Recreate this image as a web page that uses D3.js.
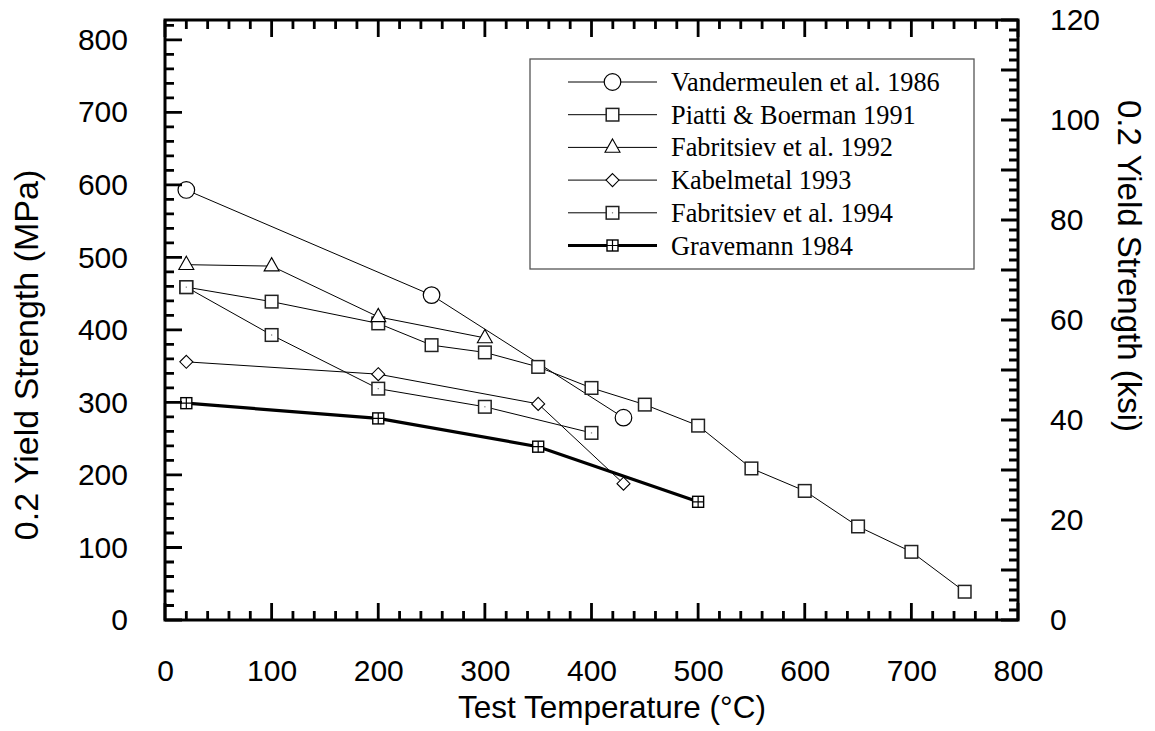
<!DOCTYPE html>
<html>
<head>
<meta charset="utf-8">
<script src="https://cdn.jsdelivr.net/npm/d3@7"></script>
<style>
  html, body { margin: 0; padding: 0; background: #fff; }
  svg { display: block; }
</style>
</head>
<body>
<svg id="chart" width="1155" height="731"></svg>
<script>
// ---- Data ----
const seriesNames = [
  "Vandermeulen et al. 1986",
  "Piatti & Boerman 1991",
  "Fabritsiev et al. 1992",
  "Kabelmetal 1993",
  "Fabritsiev et al. 1994",
  "Gravemann 1984"
];
const vandermeulenT = [20, 250, 430];
const vandermeulenS = [593, 448, 279];
const piattiT = [20, 100, 200, 250, 300, 350, 400, 450, 500, 550, 600, 650, 700, 750];
const piattiS = [459, 439, 409, 379, 369, 349, 320, 297, 268, 209, 178, 129, 94, 39];
const fab92T = [20, 100, 200, 300];
const fab92S = [490, 488, 418, 389];
const kabelT = [20, 200, 350, 430];
const kabelS = [356, 339, 298, 188];
const fab94T = [20, 100, 200, 300, 400];
const fab94S = [459, 393, 319, 294, 258];
const gravT = [20, 200, 350, 500];
const gravS = [299, 278, 239, 163];

const xTickLabels = [0, 100, 200, 300, 400, 500, 600, 700, 800];
const yTickLabels = [0, 100, 200, 300, 400, 500, 600, 700, 800];
const ksiTickLabels = [0, 20, 40, 60, 80, 100, 120];
const MPA_PER_KSI = 6.89476;

// ---- Layout ----
const L = 165, R = 1018, T = 20, B = 620;
const svg = d3.select("#chart");
const x = d3.scaleLinear().domain([0, 800]).range([L, R]);
const y = d3.scaleLinear().domain([0, 120 * MPA_PER_KSI]).range([B, T]);
const yk = d3.scaleLinear().domain([0, 120]).range([B, T]);

const sans = "'Liberation Sans', Arial, Helvetica, sans-serif";
const serif = "'Liberation Serif', 'Times New Roman', Times, serif";
const tickFont = 30;

const minorX = d3.range(0, 801, 20).filter(v => v % 100 !== 0);
const minorY = d3.range(0, 821, 20).filter(v => v % 100 !== 0);
const majorK = d3.range(0, 121, 10);
const minorK = d3.range(0, 121, 2).filter(v => v % 10 !== 0);

function styleAxis(g) {
  g.select(".domain").remove();
  g.selectAll("line").remove();
  g.selectAll("text").attr("font-family", sans).attr("font-size", tickFont).attr("fill", "#000");
}
svg.append("g").attr("transform", `translate(0,${B})`)
  .call(d3.axisBottom(x).tickValues(xTickLabels).tickSize(0).tickPadding(40).tickFormat(d3.format("d")))
  .call(styleAxis);
svg.append("g").attr("transform", `translate(${L},0)`)
  .call(d3.axisLeft(y).tickValues(yTickLabels).tickSize(0).tickPadding(37).tickFormat(d3.format("d")))
  .call(styleAxis);
svg.append("g").attr("transform", `translate(${R},0)`)
  .call(d3.axisRight(yk).tickValues(ksiTickLabels).tickSize(0).tickPadding(32).tickFormat(d3.format("d")))
  .call(styleAxis);

// Axis titles
svg.append("text").attr("x", 612).attr("y", 718).attr("text-anchor", "middle")
  .attr("font-family", sans).attr("font-size", 31.5).text("Test Temperature (°C)");
svg.append("text").attr("transform", "translate(38,355) rotate(-90)").attr("text-anchor", "middle")
  .attr("font-family", sans).attr("font-size", 34).text("0.2 Yield Strength (MPa)");
svg.append("text").attr("transform", "translate(1118,266) rotate(90)").attr("text-anchor", "middle")
  .attr("font-family", sans).attr("font-size", 33).text("0.2 Yield Strength (ksi)");

// ---- Markers ----
function drawMarker(g, type) {
  if (type === "circle") {
    g.append("circle").attr("r", 8.3).attr("fill", "#fff").attr("stroke", "#000").attr("stroke-width", 1.2);
  } else if (type === "square" || type === "squareDot") {
    g.append("rect").attr("x", -6.3).attr("y", -6.3).attr("width", 12.6).attr("height", 12.6)
      .attr("fill", "#fff").attr("stroke", "#222").attr("stroke-width", 1.5);
    if (type === "squareDot") {
      g.append("rect").attr("x", -0.6).attr("y", -0.6).attr("width", 1.2).attr("height", 1.2).attr("fill", "#777");
    }
  } else if (type === "triangle") {
    g.append("path").attr("d", "M0,-8.5 L7.5,4.8 L-7.5,4.8 Z")
      .attr("fill", "#fff").attr("stroke", "#000").attr("stroke-width", 1.1);
  } else if (type === "diamond") {
    g.append("path").attr("d", "M0,-6.5 L6.5,0 L0,6.5 L-6.5,0 Z")
      .attr("fill", "#fff").attr("stroke", "#000").attr("stroke-width", 1.1);
  } else if (type === "squareCross") {
    g.append("rect").attr("x", -5.5).attr("y", -5.5).attr("width", 11).attr("height", 11)
      .attr("fill", "#fff").attr("stroke", "#000").attr("stroke-width", 1.4);
    g.append("path").attr("d", "M0,-5.5 V5.5 M-5.5,0 H5.5").attr("stroke", "#000").attr("stroke-width", 1.2);
  }
}

const series = [
  { name: seriesNames[0], t: vandermeulenT, s: vandermeulenS, marker: "circle", width: 1 },
  { name: seriesNames[1], t: piattiT, s: piattiS, marker: "square", width: 1 },
  { name: seriesNames[2], t: fab92T, s: fab92S, marker: "triangle", width: 1 },
  { name: seriesNames[3], t: kabelT, s: kabelS, marker: "diamond", width: 1 },
  { name: seriesNames[4], t: fab94T, s: fab94S, marker: "squareDot", width: 1 },
  { name: seriesNames[5], t: gravT, s: gravS, marker: "squareCross", width: 3.2 }
];

const line = d3.line().x(d => x(d[0])).y(d => y(d[1]));
const plot = svg.append("g");
series.forEach(sr => {
  const pts = sr.t.map((t, i) => [t, sr.s[i]]);
  plot.append("path").datum(pts).attr("d", line)
    .attr("fill", "none").attr("stroke", "#000").attr("stroke-width", sr.width);
});
series.forEach(sr => {
  sr.t.forEach((t, i) => {
    const g = plot.append("g").attr("transform", `translate(${x(t)},${y(sr.s[i])})`);
    drawMarker(g, sr.marker);
  });
});

// ---- Legend ----
const lg = svg.append("g");
lg.append("rect").attr("x", 530).attr("y", 59).attr("width", 444).attr("height", 210)
  .attr("fill", "#fff").attr("stroke", "#555").attr("stroke-width", 1.3);
series.forEach((sr, i) => {
  const yy = 82 + i * 32.7;
  lg.append("line").attr("x1", 568).attr("x2", 657).attr("y1", yy).attr("y2", yy)
    .attr("stroke", "#000").attr("stroke-width", sr.width === 1 ? 1 : 3);
  const g = lg.append("g").attr("transform", `translate(612.5,${yy})`);
  drawMarker(g, sr.marker);
  lg.append("text").attr("x", 671).attr("y", yy + 9)
    .attr("font-family", serif).attr("font-size", 26.3).attr("fill", "#000").text(sr.name);
});

// frame
svg.append("rect").attr("x", L).attr("y", T).attr("width", R - L).attr("height", B - T)
  .attr("fill", "none").attr("stroke", "#000").attr("stroke-width", 3);

// Tick marks (inward) built from the scales, drawn last
let tickPath = d3.path();
function vTicks(vals, y0, len) {
  vals.forEach(v => { const px = x(v); tickPath.moveTo(px, y0); tickPath.lineTo(px, y0 + len); });
}
function hTicks(scale, vals, x0, len) {
  vals.forEach(v => { const py = scale(v); tickPath.moveTo(x0, py); tickPath.lineTo(x0 + len, py); });
}
vTicks(minorX, B, -9); vTicks(xTickLabels, B, -17);
vTicks(minorX, T, 9);  vTicks(xTickLabels, T, 17);
hTicks(y, minorY, L, 9); hTicks(y, yTickLabels, L, 17);
hTicks(yk, minorK, R, -9); hTicks(yk, majorK, R, -17);
svg.append("path").attr("class", "ticks").attr("d", tickPath.toString())
  .attr("fill", "none").attr("stroke", "#000").attr("stroke-width", 2.8);
</script>
</body>
</html>
